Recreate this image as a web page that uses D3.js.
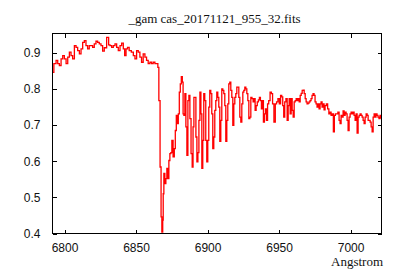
<!DOCTYPE html>
<html>
<head>
<meta charset="utf-8">
<script src="https://cdn.jsdelivr.net/npm/d3@7"></script>
<style>
  html, body { margin: 0; padding: 0; background: #fff; }
  svg { display: block; }
  .tick text { font-family: "Liberation Sans", Arial, sans-serif; font-size: 12px; fill: #111; }
  .ttl { font-family: "Liberation Serif", "Times New Roman", serif; font-size: 13px; fill: #111; }
</style>
</head>
<body>
<svg width="400" height="280"></svg>
<script>
// spectrum (Angstrom, relative flux)
var wave = [
6791.6,6793.5,6794.7,6795.8,6797.0,6798.2,6799.3,6800.5,6801.7,6802.8,6804.0,6805.1,6806.3,6807.5,6808.6,6809.8,
6811.0,6812.1,6813.3,6814.4,6815.6,6816.7,6817.9,6819.1,6820.2,6821.4,6822.6,6823.7,6824.9,6826.1,6827.2,6828.4,
6830.5,6831.2,6832.4,6833.5,6834.7,6835.9,6837.0,6838.2,6839.4,6840.5,6841.7,6842.4,6843.6,6844.5,6845.9,6847.5,
6848.7,6849.8,6851.0,6852.1,6853.3,6854.4,6855.6,6856.8,6857.9,6859.1,6860.3,6861.4,6862.6,6863.8,6864.9,6865.6,
6866.3,6867.3,6867.7,6868.4,6868.9,6869.1,6869.8,6870.5,6871.2,6871.9,6872.6,6873.3,6874.0,6874.7,6875.4,6876.4,
6877.1,6877.8,6878.5,6879.2,6879.9,6880.6,6881.3,6882.0,6882.7,6883.1,6883.8,6884.5,6885.2,6885.9,6886.6,6887.3,
6888.0,6888.9,6889.6,6890.1,6890.8,6891.5,6892.2,6892.9,6893.6,6894.3,6895.0,6895.7,6896.3,6897.0,6897.7,6898.4,
6899.1,6899.8,6900.5,6901.2,6901.9,6902.6,6903.3,6904.0,6904.7,6905.4,6906.1,6906.8,6907.5,6908.2,6908.9,6909.6,
6910.3,6911.0,6911.7,6912.4,6913.1,6913.8,6914.5,6915.2,6915.9,6916.6,6917.3,6918.0,6918.7,6919.4,6920.1,6920.8,
6921.5,6922.2,6922.9,6923.6,6924.3,6925.0,6925.7,6926.4,6927.1,6927.8,6928.5,6929.2,6929.9,6930.6,6931.5,6932.2,
6932.9,6933.6,6934.3,6935.2,6935.9,6936.6,6937.3,6938.0,6938.7,6939.4,6940.1,6940.8,6941.5,6942.4,6943.1,6944.3,
6945.0,6945.9,6946.9,6947.8,6948.7,6949.7,6950.6,6951.5,6952.2,6952.9,6953.6,6954.3,6955.3,6956.0,6956.7,6957.4,
6958.1,6958.8,6959.5,6960.2,6960.9,6961.6,6962.3,6963.0,6963.7,6964.4,6965.1,6965.8,6966.5,6967.2,6967.9,6968.6,
6969.2,6969.9,6970.6,6971.3,6972.0,6972.7,6973.4,6974.1,6974.8,6975.5,6976.2,6976.9,6977.6,6978.3,6979.0,6979.7,
6980.4,6981.1,6981.8,6982.5,6983.6,6984.3,6985.3,6986.0,6986.7,6987.6,6988.3,6989.0,6989.7,6990.6,6991.6,6992.3,
6993.0,6993.7,6994.4,6995.1,6995.8,6996.5,6997.2,6997.9,6998.6,6999.3,7000.0,7000.7,7001.4,7002.1,7002.8,7003.5,
7004.2,7004.9,7005.6,7006.3,7007.0,7007.7,7008.4,7009.1,7009.8,7010.5,7011.2,7011.9,7012.6,7013.3,7014.0,7014.7,
7015.4,7016.1,7016.8,7017.4,7018.1,7018.8,7019.5,7020.2,7020.9,7021.6
];
var flux = [
0.846,0.870,0.879,0.870,0.865,0.883,0.892,0.883,0.870,0.888,0.902,0.892,0.883,0.920,0.915,0.906,
0.897,0.911,0.929,0.934,0.920,0.911,0.920,0.920,0.915,0.925,0.932,0.929,0.925,0.920,0.905,0.914,
0.943,0.922,0.920,0.915,0.920,0.925,0.915,0.906,0.920,0.927,0.911,0.892,0.911,0.915,0.906,0.902,
0.892,0.883,0.906,0.902,0.888,0.874,0.897,0.888,0.879,0.870,0.874,0.870,0.874,0.870,0.870,0.860,
0.768,0.584,0.446,0.404,0.437,0.510,0.566,0.538,0.552,0.580,0.552,0.602,0.621,0.624,0.658,0.612,
0.635,0.685,0.727,0.704,0.731,0.791,0.814,0.834,0.819,0.731,0.727,0.787,0.695,0.616,0.768,0.782,
0.718,0.621,0.584,0.695,0.777,0.777,0.667,0.598,0.624,0.713,0.791,0.731,0.580,0.658,0.787,0.768,
0.658,0.598,0.658,0.750,0.796,0.787,0.731,0.635,0.667,0.741,0.768,0.791,0.777,0.750,0.655,0.713,
0.800,0.796,0.787,0.754,0.655,0.713,0.759,0.814,0.819,0.796,0.777,0.699,0.759,0.777,0.787,0.805,
0.805,0.777,0.722,0.708,0.759,0.791,0.796,0.805,0.800,0.787,0.768,0.718,0.722,0.777,0.773,0.764,
0.773,0.741,0.754,0.764,0.770,0.777,0.768,0.745,0.768,0.708,0.731,0.745,0.713,0.759,0.768,0.791,
0.787,0.759,0.708,0.759,0.764,0.773,0.759,0.782,0.778,0.754,0.722,0.764,0.773,0.713,0.754,0.773,
0.731,0.773,0.741,0.722,0.764,0.768,0.773,0.768,0.773,0.764,0.782,0.788,0.796,0.797,0.787,0.773,
0.764,0.759,0.761,0.764,0.768,0.773,0.782,0.787,0.782,0.764,0.759,0.750,0.759,0.745,0.759,0.764,
0.750,0.759,0.742,0.754,0.759,0.745,0.731,0.736,0.727,0.731,0.681,0.727,0.731,0.731,0.736,0.713,
0.704,0.727,0.722,0.739,0.727,0.736,0.731,0.713,0.685,0.722,0.731,0.736,0.731,0.736,0.727,0.713,
0.731,0.678,0.722,0.727,0.731,0.727,0.722,0.713,0.704,0.722,0.731,0.727,0.713,0.713,0.708,0.695,
0.681,0.722,0.731,0.722,0.731,0.727,0.722,0.718,0.727,0.720
];
var xTicks = [6800, 6850, 6900, 6950, 7000];
var yTicks = [0.4, 0.5, 0.6, 0.7, 0.8, 0.9];
var chartTitle = "_gam cas_20171121_955_32.fits";
var xTitle = "Angstrom";

var svg = d3.select("svg");
var box = {left: 52.5, right: 381.5, top: 33.5, bottom: 233.5};

var xScale = d3.scaleLinear().domain([6791.6, 7021.6]).range([box.left, box.right]);
var yScale = d3.scaleLinear().domain([0.4, 0.9535]).range([box.bottom, box.top]);

var points = wave.map(function(w, i) { return {w: w, f: flux[i]}; });

// the spectrum
var line = d3.line()
  .x(function(d) { return xScale(d.w); })
  .y(function(d) { return yScale(d.f); })
  .curve(d3.curveStep);

svg.append("path")
  .datum(points)
  .attr("d", line)
  .attr("fill", "none")
  .attr("stroke", "#ff0000")
  .attr("stroke-width", 1.3);

// axes, ticks pointing inwards on all four sides
var xAxis = svg.append("g")
  .attr("transform", "translate(0," + box.bottom + ")")
  .call(d3.axisBottom(xScale).tickValues(xTicks).tickSize(-4).tickPadding(10).tickFormat(d3.format("d")));
var yAxis = svg.append("g")
  .attr("transform", "translate(" + box.left + ",0)")
  .call(d3.axisLeft(yScale).tickValues(yTicks).tickSize(-4).tickPadding(12).tickFormat(d3.format(".1f")));
svg.append("g")
  .attr("transform", "translate(0," + box.top + ")")
  .call(d3.axisTop(xScale).tickValues(xTicks).tickSize(-4).tickFormat(""));
svg.append("g")
  .attr("transform", "translate(" + box.right + ",0)")
  .call(d3.axisRight(yScale).tickValues(yTicks).tickSize(-4).tickFormat(""));

svg.selectAll(".domain").remove();
svg.selectAll(".tick line").attr("stroke", "#000").attr("shape-rendering", "crispEdges");

svg.append("rect")
  .attr("x", box.left)
  .attr("y", box.top)
  .attr("width", box.right - box.left)
  .attr("height", box.bottom - box.top)
  .attr("fill", "none")
  .attr("stroke", "#000")
  .attr("stroke-width", 1)
  .attr("shape-rendering", "crispEdges");

svg.append("text")
  .attr("class", "ttl")
  .attr("x", 214.5)
  .attr("y", 22.5)
  .attr("text-anchor", "middle")
  .text(chartTitle);

svg.append("text")
  .attr("class", "ttl")
  .attr("x", 383)
  .attr("y", 266)
  .attr("text-anchor", "end")
  .text(xTitle);
</script>
</body>
</html>
